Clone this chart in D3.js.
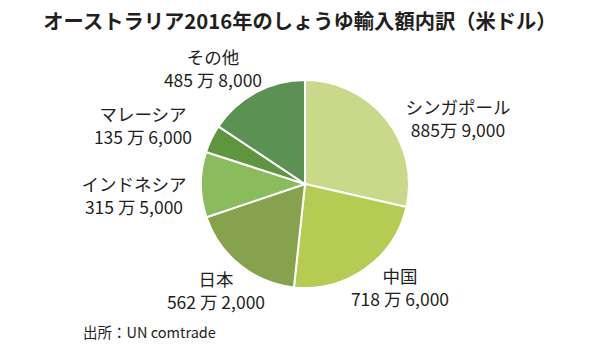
<!DOCTYPE html>
<html>
<head>
<meta charset="utf-8">
<script src="https://cdn.jsdelivr.net/npm/d3@7"></script>
<style>
  html, body { margin: 0; padding: 0; background: #fff; }
  svg { display: block; }
  text { font-family: "Noto Sans CJK JP", "Noto Sans", sans-serif; fill: #231f20; }
</style>
</head>
<body>
<svg id="chart" width="600" height="349"></svg>
<script>
// Soy sauce imports into Australia, 2016 (US$), by origin
const countries = ["シンガポール", "中国", "日本", "インドネシア", "マレーシア", "その他"];
const values = [8859000, 7186000, 5622000, 3155000, 1356000, 4858000];
const valueLabels = ["885万 9,000", "718 万 6,000", "562 万 2,000", "315 万 5,000", "135 万 6,000", "485 万 8,000"];

const colors = ["#cad889", "#b5cb52", "#86a24c", "#8abb5c", "#5f953f", "#5b9152"];
// baseline of the first line of each two-line label
const labelX = [458, 400, 216, 134, 143, 213];
const labelY = [114, 283, 286, 191, 121, 64];

const svg = d3.select("#chart");
const cx = 305, cy = 184, r = 104;

svg.append("text")
  .attr("x", 300).attr("y", 29)
  .attr("text-anchor", "middle")
  .attr("font-size", 20.3)
  .attr("font-weight", "bold")
  .text("オーストラリア2016年のしょうゆ輸入額内訳（米ドル）");

const pie = d3.pie().sort(null).value(d => d)(values);
const arc = d3.arc().innerRadius(0).outerRadius(r);

svg.append("g")
  .attr("transform", `translate(${cx},${cy})`)
  .selectAll("path")
  .data(pie)
  .join("path")
  .attr("d", arc)
  .attr("fill", (d, i) => colors[i])
  .attr("stroke", "#fff")
  .attr("stroke-width", 2)
  .attr("stroke-linejoin", "round");

const labels = svg.append("g")
  .selectAll("text")
  .data(countries)
  .join("text")
  .attr("text-anchor", "middle")
  .attr("font-size", 17.5);

labels.append("tspan")
  .attr("x", (d, i) => labelX[i])
  .attr("y", (d, i) => labelY[i])
  .text(d => d);
labels.append("tspan")
  .attr("x", (d, i) => labelX[i])
  .attr("y", (d, i) => labelY[i] + 23)
  .text((d, i) => valueLabels[i]);

svg.append("text")
  .attr("x", 83).attr("y", 338)
  .attr("font-size", 14.5)
  .text("出所：UN comtrade");
</script>
</body>
</html>
